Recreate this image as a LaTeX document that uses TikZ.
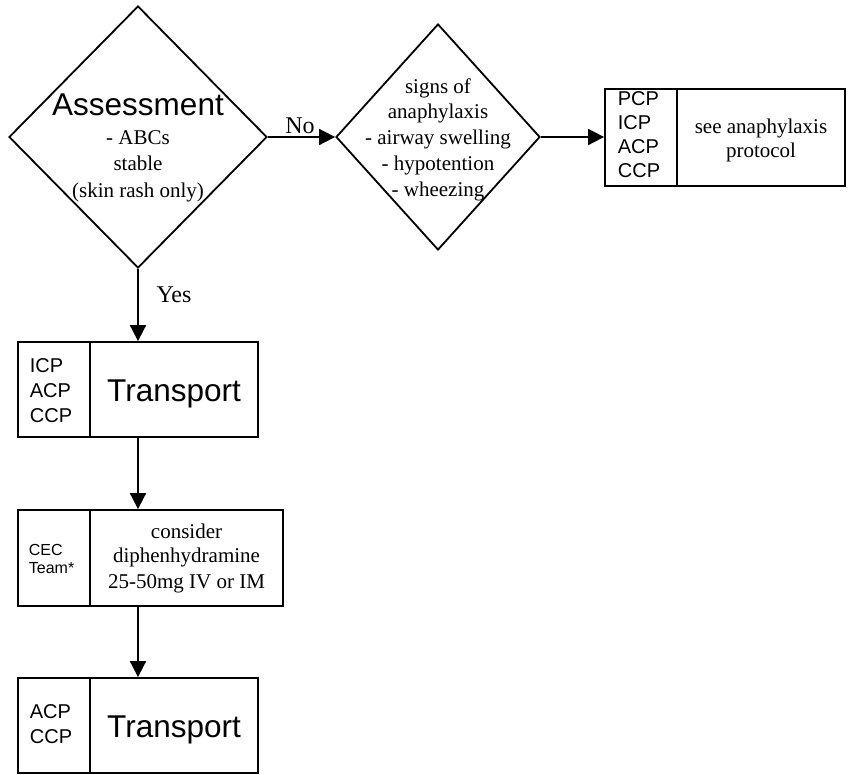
\documentclass[tikz,border=0pt]{standalone}
\usepackage{fontspec}
\setmainfont{Liberation Serif}
\newfontfamily\arialf{Liberation Sans}
\usetikzlibrary{shapes.geometric,arrows.meta}
\begin{document}
\begin{tikzpicture}[x=1pt,y=-1pt, line width=1.8pt,
 dec/.style={draw, shape=diamond, inner sep=0pt},
 cell/.style={draw, rectangle, inner sep=0pt},
 big/.style={font=\arialf\fontsize{31.5}{36}\selectfont, inner sep=0pt, anchor=base},
 tms/.style={font=\fontsize{21}{25}\selectfont, inner sep=0pt, anchor=base},
 staff/.style={font=\arialf\fontsize{20}{24}\selectfont, inner sep=0pt, anchor=base west},
 small/.style={font=\arialf\fontsize{16}{18}\selectfont, inner sep=0pt, anchor=base west},
 lbl/.style={font=\fontsize{24}{28}\selectfont, inner sep=0pt, anchor=base},
 arr/.style={-{Triangle[length=16pt,width=16pt]}}]
\useasboundingbox (0,0) rectangle (848,774);
% shapes
\node[dec, minimum width=258pt, minimum height=262pt] (d1) at (138,137) {};
\node[dec, minimum width=204pt, minimum height=226pt] (d2) at (438,137) {};
\node[cell, minimum width=72pt, minimum height=97pt] (pL) at (641,137.5) {};
\node[cell, minimum width=168pt, minimum height=97pt] (pR) at (761,137.5) {};
\node[cell, minimum width=72pt, minimum height=95pt] (t1L) at (54,389.5) {};
\node[cell, minimum width=168pt, minimum height=95pt] (t1R) at (174,389.5) {};
\node[cell, minimum width=72pt, minimum height=96pt] (cL) at (54,558) {};
\node[cell, minimum width=193pt, minimum height=96pt] (cR) at (186.5,558) {};
\node[cell, minimum width=72pt, minimum height=95pt] (t2L) at (54,725.5) {};
\node[cell, minimum width=168pt, minimum height=95pt] (t2R) at (174,725.5) {};
% connectors
\draw[arr] (d1.east) -- (d2.west);
\draw[arr] (d2.east) -- (d2.east -| pL.west);
\draw[arr] (d1.south) -- (d1.south |- t1R.north);
\draw[arr] (t1R.south -| d1.south) -- (cR.north -| d1.south);
\draw[arr] (cR.south -| d1.south) -- (t2R.north -| d1.south);
% labels
\node[lbl] (no) at (300,133) {No};
\node[lbl] (yes) at (174,302) {Yes};
% diamond 1 text
\node[big] (a1) at (138,115) {Assessment};
\node[tms] (a2) at (138,144) {- ABCs};
\node[tms] (a3) at (138,170) {stable};
\node[tms] (a4) at (138,197) {(skin rash only)};
% diamond 2 text
\node[tms] (s1) at (438,93) {signs of};
\node[tms] (s2) at (438,118) {anaphylaxis};
\node[tms] (s3) at (438,144) {- airway swelling};
\node[tms] (s4) at (438,170) {- hypotention};
\node[tms] (s5) at (438,196) {- wheezing};
% anaphylaxis box
\node[staff] (p1) at (617,105) {PCP};
\node[staff] (p2) at (617,129) {ICP};
\node[staff] (p3) at (617,153) {ACP};
\node[staff] (p4) at (617,177) {CCP};
\node[tms] (pr1) at (761,133) {see anaphylaxis};
\node[tms] (pr2) at (761,157) {protocol};
% transport 1
\node[staff] (q1) at (29,372) {ICP};
\node[staff] (q2) at (29,397) {ACP};
\node[staff] (q3) at (29,422) {CCP};
\node[big] (tr1) at (174,401) {Transport};
% CEC box
\node[small] (c1) at (28,555) {CEC};
\node[small] (c2) at (28,573) {Team*};
\node[tms] (m1) at (186.5,538) {consider};
\node[tms] (m2) at (186.5,562) {diphenhydramine};
\node[tms] (m3) at (186.5,588) {25-50mg IV or IM};
% transport 2
\node[staff] (r1) at (29,718) {ACP};
\node[staff] (r2) at (29,743) {CCP};
\node[big] (tr2) at (174,737) {Transport};
\end{tikzpicture}
\end{document}
